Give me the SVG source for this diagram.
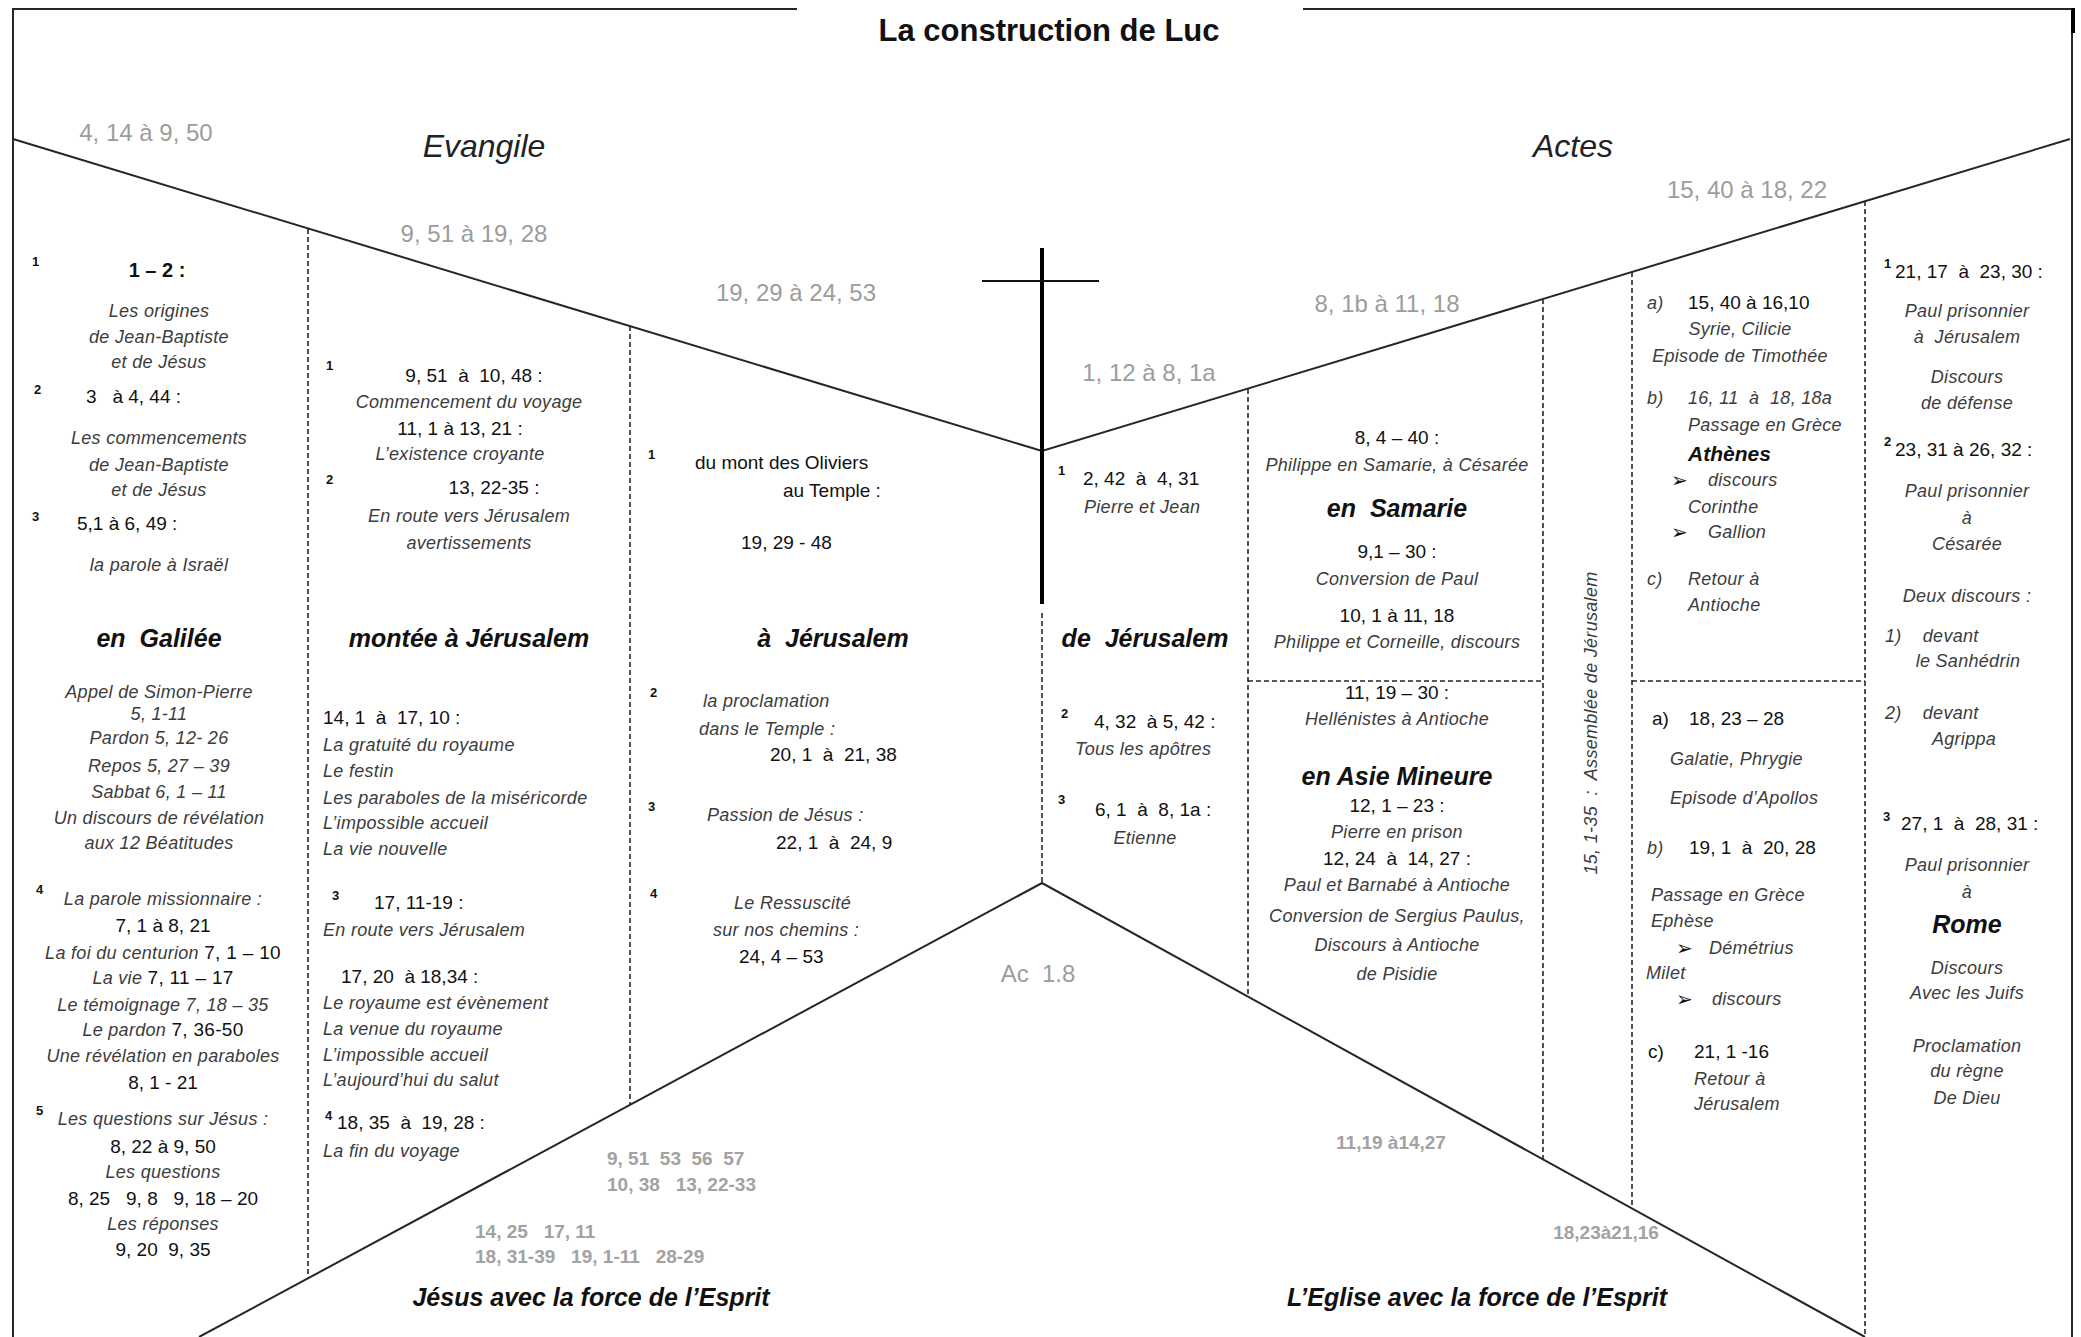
<svg xmlns="http://www.w3.org/2000/svg" width="2081" height="1337" viewBox="0 0 2081 1337">
<style>
text{font-family:"Liberation Sans",Arial,sans-serif;fill:#111}
.it{font-style:italic;font-size:18px;fill:#3c3c3c;letter-spacing:0.3px}
.n{font-size:19px;fill:#111}
.b{font-weight:bold;font-size:20px}
.hd{font-weight:bold;font-style:italic;font-size:25px;fill:#111}
.bk{font-style:italic;font-size:32px;fill:#222}
.gr{font-size:24px;fill:#9c9c9c}
.grb{font-size:19px;font-weight:bold;fill:#a2a2a2}
.sup{font-size:13px;font-weight:bold}
.c{text-anchor:middle}
.ar{font-family:"DejaVu Sans",sans-serif;font-size:20px;fill:#111}
.ln{fill:none;stroke:#262626;stroke-width:2}
.ds{fill:none;stroke:#262626;stroke-width:1.6;stroke-dasharray:5 3}
</style>
<rect width="2081" height="1337" fill="#fff"/>
<g id="connectors">
<path class="ln" d="M13,1337 V9 H797"/>
<path class="ln" d="M1303,9 H2072 V1337"/>
<rect x="2071" y="8" width="4" height="25" fill="#000"/>
<path class="ln" d="M13,139 L1042,451 L2070,139"/>
<path class="ln" d="M199,1337 L1042,883 L1865,1337"/>
<line x1="1042" y1="248" x2="1042" y2="604" stroke="#000" stroke-width="4"/>
<line x1="982" y1="281" x2="1099" y2="281" stroke="#111" stroke-width="2"/>
<line class="ds" x1="308" y1="229" x2="308" y2="1278"/>
<line class="ds" x1="630" y1="326" x2="630" y2="1105"/>
<line class="ds" x1="1042" y1="613" x2="1042" y2="883"/>
<line class="ds" x1="1248" y1="389" x2="1248" y2="997"/>
<line class="ds" x1="1543" y1="299" x2="1543" y2="1159"/>
<line class="ds" x1="1632" y1="272" x2="1632" y2="1208"/>
<line class="ds" x1="1865" y1="201" x2="1865" y2="1337"/>
<line class="ds" x1="1248" y1="681" x2="1543" y2="681"/>
<line class="ds" x1="1632" y1="681" x2="1865" y2="681"/>
</g>
<g id="titles">
<text x="1049" y="41" class="c" font-weight="bold" font-size="31">La construction de Luc</text>
<text x="484" y="157" class="bk c">Evangile</text>
<text x="1573" y="157" class="bk c">Actes</text>
<text x="591" y="1306" class="hd c">Jésus avec la force de l’Esprit</text>
<text x="1477" y="1306" class="hd c">L’Eglise avec la force de l’Esprit</text>
</g>
<g id="ranges">
<text x="146" y="141" class="gr c">4, 14 à 9, 50</text>
<text x="474" y="242" class="gr c">9, 51 à 19, 28</text>
<text x="796" y="301" class="gr c">19, 29 à 24, 53</text>
<text x="1149" y="381" class="gr c">1, 12 à 8, 1a</text>
<text x="1387" y="312" class="gr c">8, 1b à 11, 18</text>
<text x="1747" y="198" class="gr c">15, 40 à 18, 22</text>
<text x="1038" y="982" class="gr c" font-size="22" xml:space="preserve">Ac  1.8</text>
<text x="607" y="1165" class="grb" xml:space="preserve">9, 51  53  56  57</text>
<text x="607" y="1191" class="grb" xml:space="preserve">10, 38   13, 22-33</text>
<text x="475" y="1238" class="grb" xml:space="preserve">14, 25   17, 11</text>
<text x="475" y="1263" class="grb" xml:space="preserve">18, 31-39   19, 1-11   28-29</text>
<text x="1391" y="1149" class="grb c">11,19 à14,27</text>
<text x="1606" y="1239" class="grb c">18,23à21,16</text>
</g>
<g id="col-galilee">
<text x="32" y="266" class="sup">1</text>
<text x="157" y="277" class="b c">1 – 2 :</text>
<text x="159" y="317" class="it c">Les origines</text>
<text x="159" y="343" class="it c">de Jean-Baptiste</text>
<text x="159" y="368" class="it c">et de Jésus</text>
<text x="34" y="394" class="sup">2</text>
<text x="86" y="403" class="n" xml:space="preserve">3   à 4, 44 :</text>
<text x="159" y="444" class="it c">Les commencements</text>
<text x="159" y="471" class="it c">de Jean-Baptiste</text>
<text x="159" y="496" class="it c">et de Jésus</text>
<text x="32" y="521" class="sup">3</text>
<text x="77" y="530" class="n">5,1 à 6, 49 :</text>
<text x="159" y="571" class="it c">la parole à Israël</text>
<text x="159" y="647" class="hd c" xml:space="preserve">en  Galilée</text>
<text x="159" y="698" class="it c">Appel de Simon-Pierre</text>
<text x="159" y="720" class="it c" font-size="9" fill="#8a8a8a">5, 1-11</text>
<text x="159" y="744" class="it c">Pardon 5, 12- 26</text>
<text x="159" y="772" class="it c">Repos 5, 27 – 39</text>
<text x="159" y="798" class="it c">Sabbat 6, 1 – 11</text>
<text x="159" y="824" class="it c">Un discours de révélation</text>
<text x="159" y="849" class="it c">aux 12 Béatitudes</text>
<text x="36" y="894" class="sup">4</text>
<text x="163" y="905" class="it c">La parole missionnaire :</text>
<text x="163" y="932" class="n c">7, 1 à 8, 21</text>
<text x="163" y="959" class="it c">La foi du centurion <tspan class="n" font-style="normal">7, 1 – 10</tspan></text>
<text x="163" y="984" class="it c">La vie <tspan class="n" font-style="normal">7, 11 – 17</tspan></text>
<text x="163" y="1011" class="it c">Le témoignage 7, 18 – 35</text>
<text x="163" y="1036" class="it c">Le pardon <tspan class="n" font-style="normal">7, 36-50</tspan></text>
<text x="163" y="1062" class="it c">Une révélation en paraboles</text>
<text x="163" y="1089" class="n c">8, 1 - 21</text>
<text x="36" y="1115" class="sup">5</text>
<text x="163" y="1125" class="it c">Les questions sur Jésus :</text>
<text x="163" y="1153" class="n c">8, 22 à 9, 50</text>
<text x="163" y="1178" class="it c">Les questions</text>
<text x="163" y="1205" class="n c" xml:space="preserve">8, 25   9, 8   9, 18 – 20</text>
<text x="163" y="1230" class="it c">Les réponses</text>
<text x="163" y="1256" class="n c" xml:space="preserve">9, 20  9, 35</text>
</g>
<g id="col-montee">
<text x="326" y="370" class="sup">1</text>
<text x="474" y="382" class="n c" xml:space="preserve">9, 51  à  10, 48 :</text>
<text x="469" y="408" class="it c">Commencement du voyage</text>
<text x="460" y="435" class="n c">11, 1 à 13, 21 :</text>
<text x="460" y="460" class="it c">L’existence croyante</text>
<text x="326" y="484" class="sup">2</text>
<text x="494" y="494" class="n c">13, 22-35 :</text>
<text x="469" y="522" class="it c">En route vers Jérusalem</text>
<text x="469" y="549" class="it c">avertissements</text>
<text x="469" y="647" class="hd c">montée à Jérusalem</text>
<text x="323" y="724" class="n" xml:space="preserve">14, 1  à  17, 10 :</text>
<text x="323" y="751" class="it">La gratuité du royaume</text>
<text x="323" y="777" class="it">Le festin</text>
<text x="323" y="804" class="it">Les paraboles de la miséricorde</text>
<text x="323" y="829" class="it">L’impossible accueil</text>
<text x="323" y="855" class="it">La vie nouvelle</text>
<text x="332" y="900" class="sup">3</text>
<text x="374" y="909" class="n">17, 11-19 :</text>
<text x="323" y="936" class="it">En route vers Jérusalem</text>
<text x="341" y="983" class="n" xml:space="preserve">17, 20  à 18,34 :</text>
<text x="323" y="1009" class="it">Le royaume est évènement</text>
<text x="323" y="1035" class="it">La venue du royaume</text>
<text x="323" y="1061" class="it">L’impossible accueil</text>
<text x="323" y="1086" class="it">L’aujourd’hui du salut</text>
<text x="325" y="1120" class="sup">4</text>
<text x="337" y="1129" class="n" xml:space="preserve">18, 35  à  19, 28 :</text>
<text x="323" y="1157" class="it">La fin du voyage</text>
</g>
<g id="col-jerusalem">
<text x="648" y="459" class="sup">1</text>
<text x="695" y="469" class="n" font-size="18">du mont des Oliviers</text>
<text x="783" y="497" class="n" font-size="18">au Temple :</text>
<text x="741" y="549" class="n" font-size="18">19, 29 - 48</text>
<text x="833" y="647" class="hd c" xml:space="preserve">à  Jérusalem</text>
<text x="650" y="697" class="sup">2</text>
<text x="703" y="707" class="it">la proclamation</text>
<text x="699" y="735" class="it">dans le Temple :</text>
<text x="770" y="761" class="n" xml:space="preserve">20, 1  à  21, 38</text>
<text x="648" y="811" class="sup">3</text>
<text x="707" y="821" class="it">Passion de Jésus :</text>
<text x="776" y="849" class="n" xml:space="preserve">22, 1  à  24, 9</text>
<text x="650" y="898" class="sup">4</text>
<text x="734" y="909" class="it">Le Ressuscité</text>
<text x="713" y="936" class="it">sur nos chemins :</text>
<text x="739" y="963" class="n">24, 4 – 53</text>
</g>
<g id="col-de-jerusalem">
<text x="1058" y="475" class="sup">1</text>
<text x="1083" y="485" class="n" xml:space="preserve">2, 42  à  4, 31</text>
<text x="1084" y="513" class="it">Pierre et Jean</text>
<text x="1145" y="647" class="hd c" xml:space="preserve">de  Jérusalem</text>
<text x="1061" y="718" class="sup">2</text>
<text x="1094" y="728" class="n" xml:space="preserve">4, 32  à 5, 42 :</text>
<text x="1075" y="755" class="it">Tous les apôtres</text>
<text x="1058" y="804" class="sup">3</text>
<text x="1095" y="816" class="n" xml:space="preserve">6, 1  à  8, 1a :</text>
<text x="1145" y="844" class="it c">Etienne</text>
</g>
<g id="col-samarie">
<text x="1397" y="444" class="n c">8, 4 – 40 :</text>
<text x="1397" y="471" class="it c">Philippe en Samarie, à Césarée</text>
<text x="1397" y="517" class="hd c" xml:space="preserve">en  Samarie</text>
<text x="1397" y="558" class="n c">9,1 – 30 :</text>
<text x="1397" y="585" class="it c">Conversion de Paul</text>
<text x="1397" y="622" class="n c">10, 1 à 11, 18</text>
<text x="1397" y="648" class="it c">Philippe et Corneille, discours</text>
</g>
<g id="col-asie-mineure">
<text x="1397" y="699" class="n c">11, 19 – 30 :</text>
<text x="1397" y="725" class="it c">Hellénistes à Antioche</text>
<text x="1397" y="785" class="hd c">en Asie Mineure</text>
<text x="1397" y="812" class="n c">12, 1 – 23 :</text>
<text x="1397" y="838" class="it c">Pierre en prison</text>
<text x="1397" y="865" class="n c" xml:space="preserve">12, 24  à  14, 27 :</text>
<text x="1397" y="891" class="it c">Paul et Barnabé à Antioche</text>
<text x="1397" y="922" class="it c">Conversion de Sergius Paulus,</text>
<text x="1397" y="951" class="it c">Discours à Antioche</text>
<text x="1397" y="980" class="it c">de Pisidie</text>
</g>
<g id="col-assemblee">
<text x="1591" y="729" class="it c" font-size="18" fill="#111" transform="rotate(-90 1591 723)" xml:space="preserve">15, 1-35  :  Assemblée de Jérusalem</text>
</g>
<g id="col-voyage-2">
<text x="1647" y="309" class="it">a)</text>
<text x="1688" y="309" class="n">15, 40 à 16,10</text>
<text x="1740" y="335" class="it c">Syrie, Cilicie</text>
<text x="1740" y="362" class="it c">Episode de Timothée</text>
<text x="1647" y="404" class="it">b)</text>
<text x="1688" y="404" class="it" xml:space="preserve">16, 11  à  18, 18a</text>
<text x="1688" y="431" class="it">Passage en Grèce</text>
<text x="1688" y="461" font-weight="bold" font-style="italic" font-size="21">Athènes</text>
<text x="1671" y="487" class="ar">➢</text>
<text x="1708" y="486" class="it">discours</text>
<text x="1688" y="513" class="it">Corinthe</text>
<text x="1671" y="539" class="ar">➢</text>
<text x="1708" y="538" class="it">Gallion</text>
<text x="1647" y="585" class="it">c)</text>
<text x="1688" y="585" class="it">Retour à</text>
<text x="1688" y="611" class="it">Antioche</text>
</g>
<g id="col-voyage-3">
<text x="1652" y="725" class="n">a)</text>
<text x="1689" y="725" class="n">18, 23 – 28</text>
<text x="1670" y="765" class="it">Galatie, Phrygie</text>
<text x="1670" y="804" class="it">Episode d’Apollos</text>
<text x="1647" y="854" class="it">b)</text>
<text x="1689" y="854" class="n" xml:space="preserve">19, 1  à  20, 28</text>
<text x="1651" y="901" class="it">Passage en Grèce</text>
<text x="1651" y="927" class="it">Ephèse</text>
<text x="1676" y="955" class="ar">➢</text>
<text x="1709" y="954" class="it">Démétrius</text>
<text x="1646" y="979" class="it">Milet</text>
<text x="1676" y="1006" class="ar">➢</text>
<text x="1712" y="1005" class="it">discours</text>
<text x="1648" y="1058" class="n">c)</text>
<text x="1694" y="1058" class="n">21, 1 -16</text>
<text x="1694" y="1085" class="it">Retour à</text>
<text x="1694" y="1110" class="it">Jérusalem</text>
</g>
<g id="col-rome">
<text x="1884" y="268" class="sup" font-size="15">1</text>
<text x="1895" y="278" class="n" xml:space="preserve">21, 17  à  23, 30 :</text>
<text x="1967" y="317" class="it c">Paul prisonnier</text>
<text x="1967" y="343" class="it c" xml:space="preserve">à  Jérusalem</text>
<text x="1967" y="383" class="it c">Discours</text>
<text x="1967" y="409" class="it c">de défense</text>
<text x="1884" y="446" class="sup" font-size="15">2</text>
<text x="1895" y="456" class="n">23, 31 à 26, 32 :</text>
<text x="1967" y="497" class="it c">Paul prisonnier</text>
<text x="1967" y="524" class="it c">à</text>
<text x="1967" y="550" class="it c">Césarée</text>
<text x="1967" y="602" class="it c">Deux discours :</text>
<text x="1885" y="642" class="it" xml:space="preserve">1)    devant</text>
<text x="1968" y="667" class="it c">le Sanhédrin</text>
<text x="1885" y="719" class="it" xml:space="preserve">2)    devant</text>
<text x="1964" y="745" class="it c">Agrippa</text>
<text x="1883" y="821" class="sup" font-size="15">3</text>
<text x="1901" y="830" class="n" xml:space="preserve">27, 1  à  28, 31 :</text>
<text x="1967" y="871" class="it c">Paul prisonnier</text>
<text x="1967" y="898" class="it c">à</text>
<text x="1967" y="933" class="hd c">Rome</text>
<text x="1967" y="974" class="it c">Discours</text>
<text x="1967" y="999" class="it c">Avec les Juifs</text>
<text x="1967" y="1052" class="it c">Proclamation</text>
<text x="1967" y="1077" class="it c">du règne</text>
<text x="1967" y="1104" class="it c">De Dieu</text>
</g>
</svg>
